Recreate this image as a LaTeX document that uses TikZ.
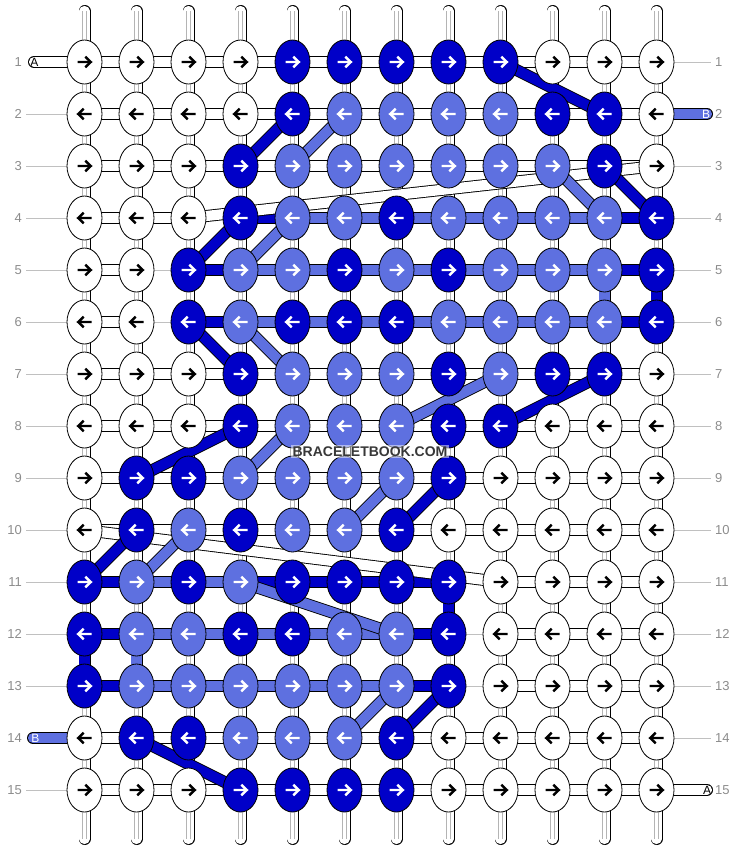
\documentclass[tikz,border=0pt]{standalone}
\usepackage{fontspec}
\setmainfont{Liberation Sans}
\usetikzlibrary{shapes.geometric}
\definecolor{dkb}{RGB}{0,0,200}
\definecolor{ltb}{RGB}{94,112,224}
\definecolor{lblgray}{RGB}{140,140,140}
\definecolor{linegray}{RGB}{192,192,192}
\definecolor{innergray}{RGB}{180,180,180}
\pgfdeclarelayer{strings}
\pgfdeclarelayer{bands}
\pgfsetlayers{strings,bands,main}
\begin{document}
\begin{tikzpicture}[x=1pt,y=-1pt,
  band/.style={draw=black, line width=0.9pt, double distance=10.2pt, double=#1},
  knot/.style={ellipse, draw=black, line width=0.8pt, minimum width=35pt, minimum height=44pt, inner sep=0pt},
  kW/.style={knot, fill=white},
  kD/.style={knot, fill=dkb},
  kL/.style={knot, fill=ltb},
  arrW/.style={draw=black},
  arrD/.style={draw=white},
  arrL/.style={draw=white},
  arrowglyph/.style={line width=2.4pt, line cap=butt, line join=miter},
  sW/.style={band=white},
  sD/.style={band=dkb},
  sL/.style={band=ltb},
  sg/.style={draw=linegray, line width=1pt},
  sn/.style={draw=none},
  gline/.style={draw=linegray, line width=1pt},
  lbl/.style={text=lblgray, font=\fontsize{13}{13}\selectfont, inner sep=4pt},
  tailtxt/.style={font=\fontsize{12}{12}\selectfont, inner sep=0pt},
]
\useasboundingbox (0,0) rectangle (740,852);

% ---------- knots ----------
\foreach \row/\cols in {
  1/{W,W,W,W,D,D,D,D,D,W,W,W},
  2/{W,W,W,W,D,L,L,L,L,D,D,W},
  3/{W,W,W,D,L,L,L,L,L,L,D,W},
  4/{W,W,W,D,L,L,D,L,L,L,L,D},
  5/{W,W,D,L,L,D,L,D,L,L,L,D},
  6/{W,W,D,L,D,D,D,L,L,L,L,D},
  7/{W,W,W,D,L,L,L,D,L,D,D,W},
  8/{W,W,W,D,L,L,L,D,D,W,W,W},
  9/{W,D,D,L,L,L,L,D,W,W,W,W},
  10/{W,D,L,D,L,L,D,W,W,W,W,W},
  11/{D,L,D,L,D,D,D,D,W,W,W,W},
  12/{D,L,L,D,D,L,L,D,W,W,W,W},
  13/{D,L,L,L,L,L,L,D,W,W,W,W},
  14/{W,D,D,L,L,L,D,W,W,W,W,W},
  15/{W,W,W,D,D,D,D,W,W,W,W,W}}{
  \foreach \cl [count=\c] in \cols {
    \node[k\cl] (k-\row-\c) at ({84.5+52*(\c-1)},{62+52*(\row-1)}) {};
    \pgfmathsetmacro\dir{1-2*mod(\row+1,2)}
    \draw[arrowglyph, arr\cl, shift={(k-\row-\c.center)}, xscale=\dir]
      (-7,0) -- (5.5,0) (0.8,-5.3) -- (6.3,0) -- (0.8,5.3);
  }
}

% ---------- row labels ----------
\foreach \r in {1,...,15}{
  \node[lbl, anchor=east] (L-\r) at (26,{62+52*(\r-1)}) {\r};
  \node[lbl, anchor=west] (R-\r) at (711,{62+52*(\r-1)}) {\r};
}

% ---------- tails ----------
\coordinate (tailA1) at (34,62);
\coordinate (tailB2) at (707,114);
\coordinate (tailB14) at (33,738);
\coordinate (tailA15) at (707,790);
\node[tailtxt] (A1) at (34.5,62.5) {A};
\node[tailtxt, text=white] (B2) at (706,114.5) {B};
\node[tailtxt, text=white] (B14) at (35.5,738.5) {B};
\node[tailtxt] (A15) at (707,790.5) {A};

% ---------- vertical string ends ----------
\foreach \c in {1,...,12}{
  \coordinate (t-\c) at ({84.5+52*(\c-1)},11);
  \coordinate (b-\c) at ({84.5+52*(\c-1)},839);
}

\begin{pgfonlayer}{strings}
  \foreach \c in {1,...,12}{
    \draw[band=white, line cap=round] (t-\c) -- (b-\c);
    \draw[innergray, line width=0.7pt]
      ([xshift=-2pt]t-\c) -- ([xshift=-2pt]b-\c)
      ([xshift=2pt]t-\c) -- ([xshift=2pt]b-\c);
  }
  % coloured vertical pieces
  \draw[sD] (k-5-12.center) -- (k-6-12.center);
  \draw[sL] (k-5-11.center) -- (k-6-11.center);
  \draw[sD] (k-11-8.center) -- (k-12-8.center);
  \draw[sD] (k-12-1.center) -- (k-13-1.center);
  \draw[sL] (k-12-2.center) -- (k-13-2.center);
  % horizontal pieces
  \foreach \row/\segs in {
    1/{W,W,W,W,W,W,W,W,W,W,W},
    2/{W,W,W,W,W,W,W,W,W,W,W},
    3/{W,W,W,W,W,W,W,W,W,W,W},
    4/{W,W,n,D,L,L,L,L,L,L,D},
    5/{W,g,D,L,L,L,L,L,L,L,D},
    6/{W,g,D,L,L,L,L,L,L,L,D},
    7/{W,W,W,W,W,W,W,W,W,W,W},
    8/{W,W,W,W,W,W,W,W,W,W,W},
    9/{W,W,W,W,W,W,W,W,W,W,W},
    10/{W,W,W,W,W,W,W,W,W,W,W},
    11/{D,L,L,D,D,D,D,n,W,W,W},
    12/{D,L,L,L,L,L,D,g,W,W,W},
    13/{D,L,L,L,L,L,D,g,W,W,W},
    14/{W,W,W,W,W,W,W,W,W,W,W},
    15/{W,W,W,W,W,W,W,W,W,W,W}}{
    \foreach \s [count=\c] in \segs {
      \pgfmathtruncatemacro\cn{\c+1}
      \path[s\s] (k-\row-\c.center) -- (k-\row-\cn.center);
    }
  }
  % tails
  \draw[band=white, line cap=round] (tailA1) -- (k-1-1.center);
  \draw[band=ltb, line cap=round] (k-2-12.center) -- (tailB2);
  \draw[band=ltb, line cap=round] (tailB14) -- (k-14-1.center);
  \draw[band=white, line cap=round] (k-15-12.center) -- (tailA15);
  % label lines
  \foreach \r in {2,...,13,15}{ \draw[gline] (L-\r) -- (k-\r-1); }
  \foreach \r in {1,3,4,5,6,7,8,9,10,11,12,13,14}{ \draw[gline] (k-\r-12) -- (R-\r); }
\end{pgfonlayer}

\begin{pgfonlayer}{bands}
  \draw[sW] (k-3-12.center) -- (k-4-3.center);
  \draw[sW] (k-10-1.center) -- (k-11-9.center);
  \draw[sD] (k-1-9.center) -- (k-2-11.center);
  \draw[sD] (k-2-5.center) -- (k-3-4.center);
  \draw[sL] (k-2-6.center) -- (k-3-5.center);
  \draw[sD] (k-3-11.center) -- (k-4-12.center);
  \draw[sL] (k-3-10.center) -- (k-4-11.center);
  \draw[sD] (k-4-4.center) -- (k-5-3.center);
  \draw[sL] (k-4-5.center) -- (k-5-4.center);
  \draw[sD] (k-6-3.center) -- (k-7-4.center);
  \draw[sL] (k-6-4.center) -- (k-7-5.center);
  \draw[sL] (k-8-7.center) -- (k-7-9.center);
  \draw[sD] (k-7-11.center) -- (k-8-9.center);
  \draw[sD] (k-8-4.center) -- (k-9-2.center);
  \draw[sL] (k-8-5.center) -- (k-9-4.center);
  \draw[sL] (k-9-7.center) -- (k-10-6.center);
  \draw[sD] (k-9-8.center) -- (k-10-7.center);
  \draw[sD] (k-10-2.center) -- (k-11-1.center);
  \draw[sL] (k-10-3.center) -- (k-11-2.center);
  \draw[sL] (k-11-4.center) -- (k-12-7.center);
  \draw[sL] (k-13-7.center) -- (k-14-6.center);
  \draw[sD] (k-13-8.center) -- (k-14-7.center);
  \draw[sD] (k-14-2.center) -- (k-15-4.center);
\end{pgfonlayer}

% ---------- watermark ----------
\node[font=\bfseries\fontsize{14}{14}\selectfont, text=black!78, fill=white,
      fill opacity=0.5, text opacity=1, inner sep=1.5pt] (wm) at (370,451.5) {BRACELETBOOK.COM};
\end{tikzpicture}
\end{document}
